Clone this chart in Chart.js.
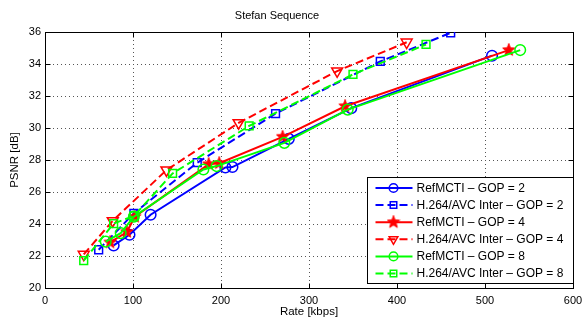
<!DOCTYPE html>
<html><head><meta charset="utf-8">
<script src="https://cdn.jsdelivr.net/npm/chart.js@4.4.0/dist/chart.umd.min.js"></script>
<style>html,body{margin:0;padding:0;background:#fff}</style>
</head><body>
<canvas id="c" width="583" height="324" style="width:583px;height:324px;display:block"></canvas>
<script>
// ---- data ----
const chartTitle = 'Stefan Sequence';
const xAxisLabel = 'Rate [kbps]';
const yAxisLabel = 'PSNR [dB]';
const xTickValues = [0, 100, 200, 300, 400, 500, 600];
const yTickValues = [20, 22, 24, 26, 28, 30, 32, 34, 36];

const seriesNames = [
  'RefMCTI \u2013 GOP = 2',
  'H.264/AVC Inter \u2013 GOP = 2',
  'RefMCTI \u2013 GOP = 4',
  'H.264/AVC Inter \u2013 GOP = 4',
  'RefMCTI \u2013 GOP = 8',
  'H.264/AVC Inter \u2013 GOP = 8'
];

const mcti2Rate = [78, 96, 120, 205, 213, 277, 348, 508];
const mcti2Psnr = [22.66, 23.33, 24.58, 27.53, 27.56, 29.32, 31.24, 34.52];

const avc2Rate = [61, 101, 173, 262, 381, 461];
const avc2Psnr = [22.39, 24.67, 27.83, 30.9, 34.16, 35.95];

const mcti4Rate = [74, 93, 102, 186, 198, 270, 341, 527];
const mcti4Psnr = [22.85, 23.5, 24.45, 27.74, 27.8, 29.45, 31.36, 34.87];

const avc4Rate = [44, 77, 138, 220, 332, 411];
const avc4Psnr = [22.1, 24.2, 27.37, 30.32, 33.56, 35.36];

const mcti8Rate = [69, 86, 101, 180, 195, 272, 344, 540];
const mcti8Psnr = [22.9, 23.43, 24.46, 27.41, 27.62, 29.07, 31.15, 34.87];

const avc8Rate = [44, 78, 101, 145, 232, 350, 433];
const avc8Psnr = [21.71, 24.03, 24.5, 27.16, 30.13, 33.35, 35.22];

// ---- helpers ----
function pts(xs, ys) { return xs.map((x, i) => ({x: x, y: ys[i]})); }

function makeStar(color, size) {
  const c = document.createElement('canvas');
  c.width = size; c.height = size;
  const g = c.getContext('2d');
  const cx = size / 2, cy = size / 2, ro = size / 2 - 0.5, ri = ro * 0.42;
  g.beginPath();
  for (let i = 0; i < 10; i++) {
    const r = i % 2 === 0 ? ro : ri;
    const a = -Math.PI / 2 + i * Math.PI / 5;
    const px = cx + r * Math.cos(a), py = cy + r * Math.sin(a);
    if (i === 0) g.moveTo(px, py); else g.lineTo(px, py);
  }
  g.closePath();
  g.fillStyle = color; g.fill();
  g.strokeStyle = color; g.lineWidth = 1; g.stroke();
  return c;
}
const redStar = makeStar('#ff0000', 14);

const FONT = "'Liberation Sans', Arial, Helvetica, sans-serif";
const DASH = [8, 4];
const NONE = 'rgba(0,0,0,0)';

function ds(label, data, color, dashed, style, radius, rotation, order) {
  return {
    label: label, data: data, order: order,
    borderColor: color, backgroundColor: NONE,
    borderWidth: 2, borderDash: dashed ? DASH : [],
    pointStyle: style, pointRadius: radius, pointRotation: rotation || 0,
    pointBorderColor: color, pointBackgroundColor: NONE, pointBorderWidth: 1.5,
    pointHoverRadius: radius, tension: 0, fill: false, showLine: true
  };
}

const datasets = [
  ds(seriesNames[0], pts(mcti2Rate, mcti2Psnr), '#0000ff', false, 'circle', 5.3, 0, 5),
  ds(seriesNames[1], pts(avc2Rate, avc2Psnr), '#0000ff', true, 'rect', 5.5, 0, 4),
  ds(seriesNames[2], pts(mcti4Rate, mcti4Psnr), '#ff0000', false, redStar, 7, 0, 3),
  ds(seriesNames[3], pts(avc4Rate, avc4Psnr), '#ff0000', true, 'triangle', 6.3, 180, 2),
  ds(seriesNames[4], pts(mcti8Rate, mcti8Psnr), '#00ff00', false, 'circle', 5.3, 0, 1),
  ds(seriesNames[5], pts(avc8Rate, avc8Psnr), '#00ff00', true, 'rect', 5.5, 0, 0)
];

const al = v => Math.round(v) + 0.5;

const framePlugin = {
  id: 'frame',
  beforeDatasetsDraw(chart) {
    const {ctx, chartArea: a, scales: {x, y}} = chart;
    ctx.save();
    // dotted grid
    ctx.strokeStyle = '#555';
    ctx.lineWidth = 1;
    ctx.setLineDash([1, 3]);
    xTickValues.forEach(v => {
      const px = al(x.getPixelForValue(v));
      if (px <= a.left + 1 || px >= a.right - 1) return;
      ctx.beginPath(); ctx.moveTo(px, a.top); ctx.lineTo(px, a.bottom); ctx.stroke();
    });
    yTickValues.forEach(v => {
      const py = al(y.getPixelForValue(v));
      if (py <= a.top + 1 || py >= a.bottom - 1) return;
      ctx.beginPath(); ctx.moveTo(a.left, py); ctx.lineTo(a.right, py); ctx.stroke();
    });
    ctx.setLineDash([]);
    // frame
    ctx.strokeStyle = '#000';
    const L = al(a.left), R = al(a.right), T = al(a.top), B = al(a.bottom);
    ctx.strokeRect(L, T, R - L, B - T);
    // inner ticks
    const tl = 5;
    ctx.beginPath();
    xTickValues.forEach(v => {
      const px = al(x.getPixelForValue(v));
      ctx.moveTo(px, B); ctx.lineTo(px, B - tl);
      ctx.moveTo(px, T); ctx.lineTo(px, T + tl);
    });
    yTickValues.forEach(v => {
      const py = al(y.getPixelForValue(v));
      ctx.moveTo(L, py); ctx.lineTo(L + tl, py);
      ctx.moveTo(R, py); ctx.lineTo(R - tl, py);
    });
    ctx.stroke();
    // title
    ctx.fillStyle = '#000';
    ctx.font = '11px ' + FONT;
    ctx.textAlign = 'center';
    ctx.textBaseline = 'middle';
    ctx.fillText(chartTitle, 277, 16);
    ctx.restore();
  }
};

const legendPlugin = {
  id: 'boxLegend',
  afterDraw(chart) {
    const {ctx, chartArea: a} = chart;
    const right = Math.round(a.right) + 0.5;
    const left = right - 206;
    const top = Math.round(a.bottom) - 111 + 0.5;
    const bottom = Math.round(a.bottom) - 5 + 0.5;
    ctx.save();
    ctx.fillStyle = '#fff';
    ctx.fillRect(left, top, right - left, bottom - top);
    ctx.strokeStyle = '#000';
    ctx.lineWidth = 1;
    ctx.strokeRect(left, top, right - left, bottom - top);
    const rowH = 17.1;
    datasets.forEach((d, i) => {
      const yy = top + 10.5 + i * rowH;
      const x0 = left + 8, x1 = left + 45, xm = left + 26;
      ctx.strokeStyle = d.borderColor;
      ctx.lineWidth = 2;
      ctx.setLineDash(d.borderDash);
      ctx.beginPath(); ctx.moveTo(x0, yy); ctx.lineTo(x1, yy); ctx.stroke();
      ctx.setLineDash([]);
      ctx.lineWidth = d.pointBorderWidth;
      ctx.fillStyle = NONE;
      Chart.helpers.drawPoint(ctx, {
        pointStyle: d.pointStyle, radius: d.pointStyle === 'rect' ? 4.6 : (d.pointStyle === 'circle' ? 4.3 : 5),
        rotation: d.pointRotation, borderWidth: d.pointBorderWidth
      }, xm, yy);
      ctx.fillStyle = '#000';
      ctx.font = '12px ' + FONT;
      ctx.textBaseline = 'middle';
      ctx.textAlign = 'left';
      ctx.fillText(d.label, left + 49, yy + 0.5);
    });
    ctx.restore();
  }
};

new Chart(document.getElementById('c'), {
  type: 'line',
  data: {datasets: datasets},
  options: {
    responsive: false,
    animation: false,
    events: [],
    layout: {padding: {left: 0, right: 10, top: 32, bottom: 0}},
    plugins: {
      legend: {display: false},
      tooltip: {enabled: false},
      title: {display: false}
    },
    scales: {
      x: {
        type: 'linear', min: 0, max: 600,
        afterFit(s) { s.height = 36; s.paddingLeft = 0; s.paddingRight = 0; },
        afterBuildTicks(s) { s.ticks = xTickValues.map(v => ({value: v})); },
        grid: {display: false, drawTicks: false},
        border: {display: false},
        ticks: {color: '#000', font: {family: FONT, size: 11}, padding: 6, maxRotation: 0},
        title: {display: true, text: xAxisLabel, color: '#000', font: {family: FONT, size: 11.5}, padding: {top: 0, bottom: 5.4}}
      },
      y: {
        type: 'linear', min: 20, max: 36,
        afterFit(s) { s.width = 45; s.paddingTop = 0; s.paddingBottom = 0; },
        afterBuildTicks(s) { s.ticks = yTickValues.map(v => ({value: v})); },
        grid: {display: false, drawTicks: false},
        border: {display: false},
        ticks: {color: '#000', font: {family: FONT, size: 11}, padding: 4},
        title: {display: true, text: yAxisLabel, color: '#000', font: {family: FONT, size: 11.5}, padding: {top: 8.2, bottom: 0}}
      }
    }
  },
  plugins: [framePlugin, legendPlugin]
});
</script>
</body></html>
